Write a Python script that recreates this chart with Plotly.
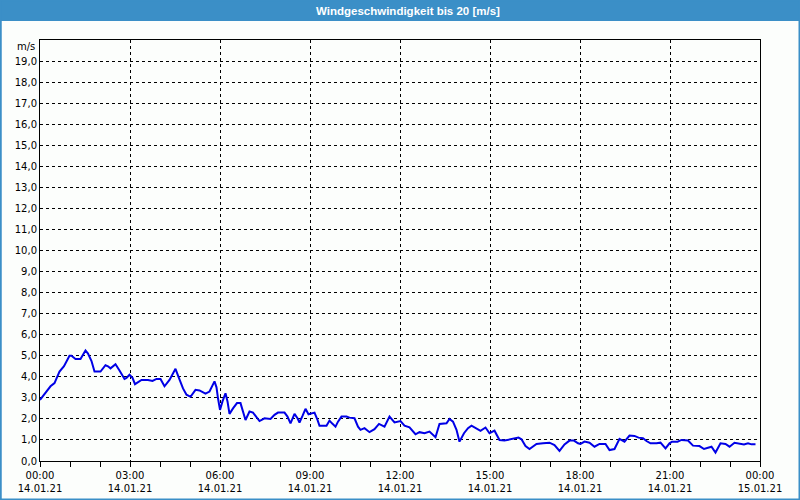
import plotly.graph_objects as go

# minutes after 14.01.21 00:00 and wind speed in m/s
minutes = [0, 9, 21, 29, 39, 48, 59, 63, 71, 81, 91, 96, 103, 109, 121, 131, 136, 141, 151, 159,
           169, 173, 179, 185, 190, 203, 216, 225, 233, 241, 249, 259, 271, 277, 286, 293, 301, 311, 319, 331,
           339, 349, 353, 356, 360, 365, 371, 375, 379, 386, 394, 401, 404, 411, 419, 426, 433, 439, 449, 461,
           469, 476, 489, 495, 501, 509, 515, 519, 525, 531, 537, 543, 549, 555, 559, 573, 579, 584, 591, 596,
           603, 613, 619, 629, 636, 641, 649, 659, 669, 678, 689, 699, 709, 721, 729, 739, 744, 751, 759, 769,
           779, 786, 791, 799, 813, 819, 826, 833, 839, 848, 856, 863, 873, 881, 891, 899, 909, 919, 929, 939,
           949, 957, 963, 971, 979, 993, 1006, 1019, 1029, 1039, 1049, 1059, 1068, 1076, 1081, 1089, 1099, 1109, 1119, 1131,
           1139, 1149, 1159, 1169, 1179, 1189, 1197, 1206, 1213, 1221, 1233, 1241, 1251, 1259, 1264, 1275, 1283, 1296, 1306, 1319,
           1328, 1336, 1343, 1351, 1361, 1371, 1379, 1389, 1399, 1408, 1416, 1423, 1431]
speed = [2.9, 3.2, 3.55, 3.7, 4.25, 4.5, 5.0, 5.0, 4.85, 4.85, 5.25, 5.1, 4.75, 4.25, 4.25, 4.55, 4.5, 4.4, 4.6, 4.3,
         3.9, 3.95, 4.1, 3.95, 3.65, 3.85, 3.85, 3.8, 3.9, 3.9, 3.55, 3.85, 4.38, 4.0, 3.45, 3.15, 3.05, 3.38, 3.35, 3.2,
         3.3, 3.78, 3.5, 2.98, 2.43, 2.83, 3.22, 2.83, 2.24, 2.5, 2.75, 2.75, 2.5, 1.95, 2.35, 2.3, 2.08, 1.9, 2.03, 2.0,
         2.19, 2.3, 2.3, 2.11, 1.79, 2.24, 2.03, 1.83, 2.14, 2.48, 2.22, 2.27, 2.3, 1.95, 1.67, 1.67, 1.92, 1.79, 1.63, 1.87,
         2.11, 2.11, 2.06, 2.03, 1.63, 1.48, 1.56, 1.37, 1.51, 1.76, 1.63, 2.11, 1.83, 1.9, 1.68, 1.6, 1.48, 1.27, 1.37, 1.32,
         1.4, 1.24, 1.13, 1.76, 1.79, 2.0, 1.87, 1.48, 0.92, 1.32, 1.56, 1.68, 1.56, 1.43, 1.59, 1.32, 1.44, 1.0, 0.97, 1.03,
         1.08, 1.11, 1.03, 0.71, 0.57, 0.81, 0.84, 0.87, 0.76, 0.48, 0.79, 0.97, 0.97, 0.84, 0.81, 0.92, 0.87, 0.68, 0.81, 0.81,
         0.52, 0.57, 1.05, 0.92, 1.21, 1.19, 1.11, 1.08, 0.95, 0.84, 0.84, 0.87, 0.6, 0.84, 0.92, 0.92, 1.0, 0.97, 0.73, 0.71,
         0.57, 0.63, 0.68, 0.4, 0.84, 0.81, 0.68, 0.87, 0.84, 0.79, 0.84, 0.79, 0.79]

y_tickvals = list(range(0, 20))
y_ticktext = ["%d,0" % v for v in y_tickvals]

times = ["2021-01-14 %02d:%02d" % (m // 60, m % 60) for m in minutes]

BLUE = "#3b8fc7"
FONT = "DejaVu Sans"

fig = go.Figure()
fig.add_trace(go.Scatter(x=times, y=speed, mode="lines",
                         line=dict(color="#0000e6", width=2), showlegend=False))

# plot area: x 40..760 px, y 40..461 px
def px_x(p):
    return (p - 40) / 720.0

def px_y(p):
    return (461 - p) / 421.0

fig.update_layout(
    width=800, height=500,
    margin=dict(l=40, r=40, t=40, b=39, autoexpand=False),
    paper_bgcolor="#fcfefc", plot_bgcolor="#fcfefc",
    font=dict(family=FONT, size=10, color="black"),
    xaxis=dict(
        type="date", range=["2021-01-14 00:00", "2021-01-15 00:00"],
        tick0="2021-01-14 00:00", dtick=3 * 3600000,
        tickformat="%H:%M<br>%d.%m.%y",
        ticks="outside", ticklen=5, tickcolor="black",
        showgrid=True, gridcolor="black", griddash="3px,3px", gridwidth=1,
        showline=True, linecolor="black", linewidth=1, mirror=True,
        minor=dict(dtick=3600000, ticks="outside", ticklen=5, tickcolor="black", showgrid=False),
        zeroline=False, fixedrange=True, automargin=False,
    ),
    yaxis=dict(
        range=[0, 20], tickmode="array", tickvals=y_tickvals, ticktext=y_ticktext,
        ticks="", showgrid=True, gridcolor="black", griddash="3px,3px", gridwidth=1,
        showline=True, linecolor="black", linewidth=1, mirror=True,
        zeroline=False, fixedrange=True, automargin=False,
    ),
    shapes=[
        dict(type="rect", xref="paper", yref="paper",
             x0=px_x(0), x1=px_x(800), y0=px_y(21), y1=px_y(0),
             fillcolor=BLUE, line=dict(width=0), layer="below"),
        dict(type="rect", xref="paper", yref="paper",
             x0=px_x(0.75), x1=px_x(799.5), y0=px_y(499.5), y1=px_y(0.5),
             line=dict(color=BLUE, width=2)),
    ],
    annotations=[
        dict(text="<b>Windgeschwindigkeit bis 20 [m/s]</b>", xref="paper", yref="paper",
             x=px_x(408), y=px_y(10.5), xanchor="center", yanchor="middle", showarrow=False,
             font=dict(family="Liberation Sans", size=11.5, color="white")),
        dict(text="m/s", xref="paper", yref="paper",
             x=px_x(37), y=px_y(46), xanchor="right", yanchor="middle", showarrow=False,
             font=dict(family=FONT, size=10, color="black")),
    ],
)

fig.write_html("out.html", config={"displayModeBar": False},
               post_script="document.body.style.margin='0px';document.body.style.padding='0px';")
